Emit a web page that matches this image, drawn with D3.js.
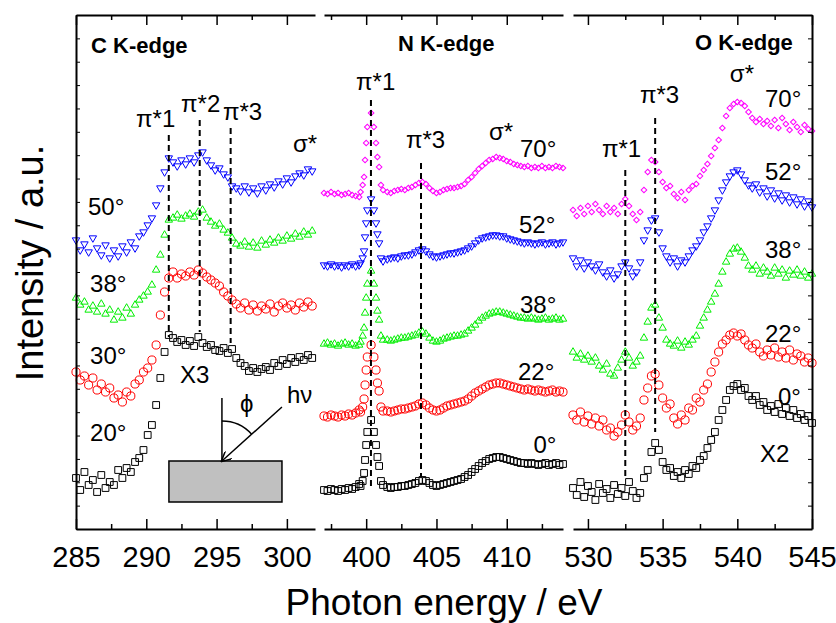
<!DOCTYPE html>
<html>
<head>
<meta charset="utf-8">
<script src="https://cdn.jsdelivr.net/npm/d3@7"></script>
<style>
body { margin: 0; background: #fff; }
svg { display: block; }
text { font-family: "Liberation Sans", Arial, sans-serif; fill: #000; }
</style>
</head>
<body>
<div id="chart"></div>
<script>
// energy grids (eV) for each edge
var cEnergy = [285.0,285.3,285.6,285.9,286.2,286.5,286.8,287.1,287.4,287.7,288.0,288.3,288.6,288.9,289.2,289.5,289.8,
  290.1,290.4,290.7,291.0,291.3,291.6,291.9,292.2,292.5,292.8,293.1,293.4,293.7,294.0,294.3,294.6,294.9,295.2,295.5,
  295.8,296.1,296.4,296.7,297.0,297.3,297.6,297.9,298.2,298.5,298.8,299.1,299.4,299.7,300.0,300.3,300.6,300.9,301.2,
  301.5,301.8];
// irregular steps across the sharp N pi*1 resonance
var nEnergy = [397,397.25,397.5,397.75,398,398.25,398.5,398.75,399,399.25,399.5,
  399.6,399.75,399.85,399.92,400.0,400.08,400.35,400.55,400.7,400.8,400.92,401.05,401.2,
  401.5,401.75,402,402.25,402.5,402.75,403,403.25,403.5,403.75,404,404.25,404.5,404.75,405,405.25,405.5,405.75,
  406,406.25,406.5,406.75,407,407.25,407.5,407.75,408,408.25,408.5,408.75,409,409.25,409.5,409.75,410,410.25,410.5,
  410.75,411,411.25,411.5,411.75,412,412.25,412.5,412.75,413,413.25,413.5,413.75,414];
var oEnergy = [529,529.25,529.5,529.75,530,530.25,530.5,530.75,531,531.25,531.5,531.75,532,532.25,532.5,532.75,533,
  533.25,533.5,533.75,534,534.25,534.5,534.75,535,535.25,535.5,535.75,536,536.25,536.5,536.75,537,537.25,537.5,537.75,
  538,538.25,538.5,538.75,539,539.25,539.5,539.75,540,540.25,540.5,540.75,541,541.25,541.5,541.75,542,542.25,542.5,
  542.75,543,543.25,543.5,543.75,544,544.25,544.5,544.75,545];

// C K-edge spectra (offset, a.u.)
var c20 = [51,39,57,44,49,37,54,41,47,44,59,51,61,57,67,71,79,94,104,124,151,177,194,191,187,189,184,188,183,192,
  186,182,184,179,178,181,176,180,171,166,163,158,161,157,160,162,159,166,163,169,165,171,167,172,169,174,171];
var c30 = [157,149,153,144,151,139,145,137,141,131,134,127,137,133,145,149,157,161,169,184,214,237,251,257,251,255,
  253,257,254,259,256,252,249,246,243,237,233,229,225,221,226,219,224,218,223,220,225,217,223,226,221,224,219,226,
  222,227,223];
var c38 = [231,224,227,219,223,217,225,215,219,209,217,211,221,215,224,229,233,237,244,259,274,294,309,311,314,310,
  313,315,312,317,319,311,307,303,305,299,296,291,285,283,287,282,286,281,288,284,289,286,291,288,293,290,295,292,
  297,294,298];
var c50 = [289,279,285,277,291,281,274,284,271,279,273,283,277,287,281,293,297,304,311,324,341,357,371,367,363,369,
  365,371,367,374,377,369,364,359,361,355,352,343,341,338,343,337,341,336,343,339,345,342,348,345,351,347,353,356,
  354,360,358];

// N K-edge spectra
var n0 = [39,38,40,39,38,40,39,41,40,42,45,
  43,48,56,69,84,97,109,97,84,72,63,48,44,
  42,41,42,42,43,43,44,45,46,48,49,48,46,44,43,44,45,46,47,48,49,50,
  52,54,57,60,63,66,68,70,71,72,72,71,70,69,68,67,66,66,65,66,65,64,65,66,64,65,66,64,65];
var n22 = [113,112,114,113,112,114,113,115,114,116,119,
  117,122,130,144,159,172,184,172,159,146,138,122,118,
  118,117,118,119,120,120,121,122,123,125,126,124,121,119,118,119,121,123,124,125,126,127,
  128,130,133,136,138,140,142,144,145,146,146,145,144,143,142,141,140,139,140,139,138,139,138,137,138,139,137,138,137];
var n38 = [185,186,184,185,183,185,186,184,185,183,184,
  187,193,201,216,231,245,258,245,231,218,209,193,189,
  189,188,189,190,191,191,192,193,194,196,197,195,191,188,187,188,190,191,192,193,193,194,
  195,198,201,204,208,211,213,215,216,217,217,216,215,214,213,212,211,211,210,211,210,209,210,211,209,210,211,209,210];
var n52 = [264,263,265,263,264,262,264,263,265,263,264,
  266,271,278,292,306,319,330,319,306,295,286,271,268,
  270,271,272,271,273,274,274,275,277,279,280,278,275,273,272,273,274,275,276,276,277,278,
  279,281,283,286,289,291,292,293,294,294,293,293,291,290,289,288,287,286,287,286,285,286,287,285,286,287,285,286,287];
var n70 = [336,335,337,335,336,334,335,336,334,333,332,
  337,344,352,369,386,402,416,402,386,372,362,344,339,
  337,336,338,339,340,339,341,342,344,346,347,345,341,338,336,337,339,340,341,341,342,343,
  345,349,352,356,360,363,366,369,370,372,371,370,368,367,365,364,363,362,363,361,362,361,363,361,362,361,363,362,361];

// O K-edge spectra
var o0 = [41,34,47,32,43,37,29,45,36,40,31,44,35,41,33,47,38,31,36,51,59,77,86,79,67,59,61,53,57,51,59,55,63,61,69,
  73,81,89,97,109,119,129,139,143,145,139,141,133,129,133,124,127,119,123,117,125,115,121,113,119,111,115,109,113,106];
var o22 = [114,109,117,107,113,105,111,103,109,99,101,93,97,104,114,107,99,103,111,129,141,153,155,144,131,121,125,
  111,105,114,109,121,119,131,127,139,145,157,167,177,185,189,194,196,193,195,189,184,181,185,177,173,179,174,181,
  172,177,171,179,169,175,173,167,171,166];
var o38 = [177,171,175,169,173,167,171,163,159,165,155,153,161,169,177,171,163,167,173,191,207,221,224,211,201,189,
  185,183,188,181,187,184,189,193,203,211,219,227,235,245,257,267,275,280,281,277,271,263,259,263,255,261,257,253,
  261,255,259,251,258,254,259,253,257,251,255];
var o52 = [271,263,269,261,267,263,259,265,257,253,259,251,255,263,267,261,253,257,267,289,299,309,311,297,281,273,
  267,271,263,269,267,273,279,283,289,297,303,311,319,329,339,347,353,357,359,355,349,344,341,345,337,341,333,339,
  331,336,329,334,327,332,325,330,323,328,322];
var o70 = [319,313,321,315,323,317,325,319,315,323,317,321,315,325,330,323,315,309,317,339,357,369,367,357,347,341,
  343,335,331,337,329,339,343,345,353,359,365,373,381,389,401,413,421,425,427,426,423,417,411,407,410,405,408,403,
  409,401,411,405,399,407,402,397,404,400,398];

// resonance positions (eV)
var cPeaks = [291.6, 293.8, 296.0];
var nPeaks = [400.34, 403.9];
var oPeaks = [532.5, 534.5];

// tick labels
var cTicks = [285, 290, 295, 300], cMinor = [287.5, 292.5, 297.5];
var nTicks = [400, 405, 410], nMinor = [397.5, 402.5, 407.5, 412.5];
var oTicks = [530, 535, 540, 545], oMinor = [532.5, 537.5, 542.5];

var W = 836, H = 623;
var yTop = 15, yBot = 529;

var svg = d3.select('#chart').append('svg')
  .attr('width', W)
  .attr('height', H);

var y = d3.scaleLinear().domain([0, 514]).range([yBot, yTop]);

var shapes = {
  square:  {type: d3.symbolSquare,   size: 46, rot: 0},
  circle:  {type: d3.symbolCircle,   size: 52, rot: 0},
  up:      {type: d3.symbolTriangle, size: 24, rot: 0},
  down:    {type: d3.symbolTriangle, size: 24, rot: 180},
  diamond: {type: d3.symbolSquare,   size: 16, rot: 45}
};

var panels = [
  {energy: cEnergy, domain: [285, 302], range: [76, 315], major: cTicks, minor: cMinor,
   series: [
     {v: c20, shape: 'square', color: '#000'},
     {v: c30, shape: 'circle', color: '#ff0000'},
     {v: c38, shape: 'up', color: '#00ee00'},
     {v: c50, shape: 'down', color: '#0000ff'}],
   peaks: cPeaks, spans: [[394, 192], [409, 197], [401, 186]],
   labels: [
     {t: 'C K-edge', e: 286.07, v: 476, bold: true},
     {t: '\u03c0*1', e: 289.27, v: 402},
     {t: '\u03c0*2', e: 292.47, v: 417},
     {t: '\u03c0*3', e: 295.45, v: 409},
     {t: '\u03c3*', e: 300.43, v: 377},
     {t: '50\u00b0', e: 285.85, v: 314},
     {t: '38\u00b0', e: 286.0, v: 237},
     {t: '30\u00b0', e: 286.0, v: 165},
     {t: '20\u00b0', e: 286.0, v: 88},
     {t: 'X3', e: 292.4, v: 146}]},
  {energy: nEnergy, domain: [397, 414], range: [324, 563], major: nTicks, minor: nMinor,
   series: [
     {v: n0, shape: 'square', color: '#000'},
     {v: n22, shape: 'circle', color: '#ff0000'},
     {v: n38, shape: 'up', color: '#00ee00'},
     {v: n52, shape: 'down', color: '#0000ff'},
     {v: n70, shape: 'diamond', color: '#ff00ff'}],
   peaks: nPeaks, spans: [[429, 39], [366, 52]],
   labels: [
     {t: 'N K-edge', e: 402.26, v: 478, bold: true},
     {t: '\u03c0*1', e: 399.28, v: 439},
     {t: '\u03c0*3', e: 402.83, v: 381},
     {t: '\u03c3*', e: 408.74, v: 389},
     {t: '70\u00b0', e: 410.94, v: 372},
     {t: '52\u00b0', e: 410.87, v: 296},
     {t: '38\u00b0', e: 410.94, v: 216},
     {t: '22\u00b0', e: 410.8, v: 149},
     {t: '0\u00b0', e: 411.9, v: 76}]},
  {energy: oEnergy, domain: [529, 545], range: [573, 812], major: oTicks, minor: oMinor,
   series: [
     {v: o0, shape: 'square', color: '#000'},
     {v: o22, shape: 'circle', color: '#ff0000'},
     {v: o38, shape: 'up', color: '#00ee00'},
     {v: o52, shape: 'down', color: '#0000ff'},
     {v: o70, shape: 'diamond', color: '#ff00ff'}],
   peaks: oPeaks, spans: [[359, 49], [411, 97]],
   labels: [
     {t: 'O K-edge', e: 537.17, v: 479, bold: true},
     {t: '\u03c3*', e: 539.5, v: 447},
     {t: '\u03c0*3', e: 533.48, v: 426},
     {t: '\u03c0*1', e: 530.94, v: 372},
     {t: '70\u00b0', e: 541.85, v: 422},
     {t: '52\u00b0', e: 541.85, v: 349},
     {t: '38\u00b0', e: 541.85, v: 271},
     {t: '22\u00b0', e: 541.85, v: 187},
     {t: '0\u00b0', e: 542.72, v: 124},
     {t: 'X2', e: 541.52, v: 67}]}
];

// arrow head for the h-nu sketch
svg.append('defs').append('marker')
  .attr('id', 'arr')
  .attr('viewBox', '0 0 10 10')
  .attr('refX', 9).attr('refY', 5)
  .attr('markerUnits', 'userSpaceOnUse')
  .attr('markerWidth', 11).attr('markerHeight', 10)
  .attr('orient', 'auto')
  .append('path')
  .attr('d', 'M0,0 L10,5 L0,10')
  .attr('fill', 'none')
  .attr('stroke', '#000')
  .attr('stroke-width', 1.5);

var xScales = [];

panels.forEach(function(p, pi) {
  var x = d3.scaleLinear().domain(p.domain).range(p.range);
  xScales.push(x);
  var g = svg.append('g').attr('class', 'panel');

  // data points
  p.series.forEach(function(s) {
    var sh = shapes[s.shape];
    var sym = d3.symbol().type(sh.type).size(sh.size);
    g.append('g')
      .selectAll('path')
      .data(p.energy.map(function(e, i) { return [e, s.v[i]]; }).filter(function(d) { return d[1] != null; }))
      .enter()
      .append('path')
      .attr('d', sym)
      .attr('transform', function(d) {
        return 'translate(' + x(d[0]) + ',' + y(d[1]) + ') rotate(' + sh.rot + ')';
      })
      .attr('fill', 'none')
      .attr('stroke', s.color)
      .attr('stroke-width', 1);
  });

  // dashed resonance lines
  g.selectAll('line.peak')
    .data(p.peaks)
    .enter()
    .append('line')
    .attr('class', 'peak')
    .attr('x1', function(d) { return x(d); })
    .attr('x2', function(d) { return x(d); })
    .attr('y1', function(d, i) { return y(p.spans[i][0]); })
    .attr('y2', function(d, i) { return y(p.spans[i][1]); })
    .attr('stroke', '#000')
    .attr('stroke-width', 2)
    .attr('stroke-dasharray', '6,4');

  // labels
  g.selectAll('text.lab')
    .data(p.labels)
    .enter()
    .append('text')
    .attr('class', 'lab')
    .attr('x', function(d) { return x(d.e); })
    .attr('y', function(d) { return y(d.v); })
    .style('font-size', function(d) { return d.bold ? '22px' : '24px'; })
    .style('font-weight', function(d) { return d.bold ? 'bold' : 'normal'; })
    .text(function(d) { return d.t; });

  // bottom axis
  var bx = svg.append('g').attr('transform', 'translate(0,' + yBot + ')')
    .call(d3.axisBottom(x).tickValues(p.major).tickSize(-10).tickSizeOuter(0).tickPadding(17).tickFormat(d3.format('d')));
  bx.selectAll('text').style('font-size', '29px').attr('fill', '#000');
  bx.select('.domain').attr('stroke-width', 2);
  bx.selectAll('.tick line').attr('stroke-width', 1.5);
  var bm = svg.append('g').attr('transform', 'translate(0,' + yBot + ')')
    .call(d3.axisBottom(x).tickValues(p.minor).tickSize(-5).tickSizeOuter(0).tickFormat(''));
  bm.select('.domain').remove();
  bm.selectAll('.tick line').attr('stroke-width', 1.5);

  // top axis
  var tx = svg.append('g').attr('transform', 'translate(0,' + yTop + ')')
    .call(d3.axisTop(x).tickValues(p.major).tickSize(-10).tickSizeOuter(0).tickFormat(''));
  tx.select('.domain').attr('stroke-width', 2);
  tx.selectAll('.tick line').attr('stroke-width', 1.5);
  var tm = svg.append('g').attr('transform', 'translate(0,' + yTop + ')')
    .call(d3.axisTop(x).tickValues(p.minor).tickSize(-5).tickSizeOuter(0).tickFormat(''));
  tm.select('.domain').remove();
  tm.selectAll('.tick line').attr('stroke-width', 1.5);
});

// left and right vertical axes (no labels)
var yTicks = d3.range(0, 515, 514 / 22);
var ly = svg.append('g').attr('transform', 'translate(76,0)')
  .call(d3.axisRight(y).tickValues(yTicks).tickSize(4).tickSizeOuter(0).tickFormat(''));
ly.select('.domain').attr('stroke-width', 2);
var ry = svg.append('g').attr('transform', 'translate(812,0)')
  .call(d3.axisLeft(y).tickValues(yTicks).tickSize(4).tickSizeOuter(0).tickFormat(''));
ry.select('.domain').attr('stroke-width', 2);

// geometry sketch in the C K-edge panel
var cx = xScales[0];
var sk = svg.append('g');
sk.append('rect')
  .attr('x', cx(291.61)).attr('y', y(68))
  .attr('width', cx(299.65) - cx(291.61)).attr('height', y(27) - y(68))
  .attr('fill', '#c0c0c0').attr('stroke', '#000').attr('stroke-width', 1.5);
sk.append('line')
  .attr('x1', cx(295.38)).attr('x2', cx(295.38))
  .attr('y1', y(131)).attr('y2', y(68))
  .attr('stroke', '#000').attr('stroke-width', 1.5);
sk.append('line')
  .attr('x1', cx(299.65)).attr('y1', y(122))
  .attr('x2', cx(295.38)).attr('y2', y(68))
  .attr('stroke', '#000').attr('stroke-width', 1.5)
  .attr('marker-end', 'url(#arr)');
var ox = cx(295.38), oy = y(68);
var ang = Math.atan2(y(122) - oy, cx(299.65) - ox);
var arcPath = d3.path();
arcPath.arc(ox, oy, 40, -Math.PI / 2, ang);
sk.append('path').attr('d', arcPath.toString())
  .attr('fill', 'none').attr('stroke', '#000').attr('stroke-width', 1.5);
sk.append('text').attr('x', cx(296.66)).attr('y', y(117)).style('font-size', '24px').text('\u03d5');
sk.append('text').attr('x', cx(300.0)).attr('y', y(126)).style('font-size', '24px').text('h\u03bd');

// axis titles
svg.append('text')
  .attr('x', 444).attr('y', 615)
  .attr('text-anchor', 'middle')
  .style('font-size', '37px')
  .text('Photon energy / eV');
svg.append('text')
  .attr('transform', 'translate(43,263) rotate(-90)')
  .attr('text-anchor', 'middle')
  .style('font-size', '38px')
  .text('Intensity / a.u.');
</script>
</body>
</html>
